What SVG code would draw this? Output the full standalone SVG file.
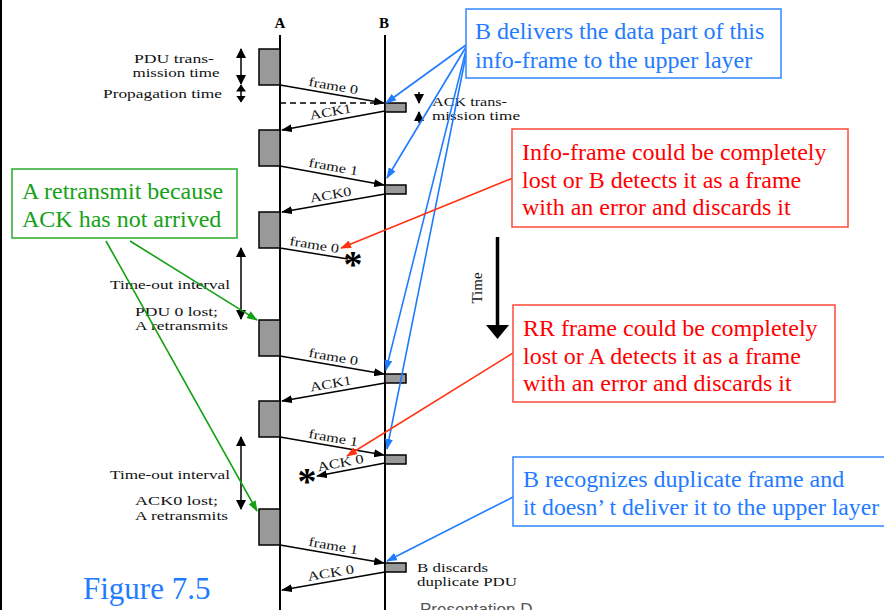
<svg xmlns="http://www.w3.org/2000/svg" width="884" height="610" viewBox="0 0 884 610">
<style>
.tl{stroke:#000;stroke-width:2;fill:none}
.pdu{fill:#999;stroke:#000;stroke-width:1.5}
.msg{stroke:#000;stroke-width:1.5;fill:none;marker-end:url(#ab)}
.lbl{font-family:"Liberation Serif","Times New Roman",serif;font-size:13px;fill:#111}
.sm{font-family:"Liberation Serif","Times New Roman",serif;font-size:12.5px;fill:#111}
.hd{font-family:"Liberation Serif","Times New Roman",serif;font-size:15px;font-weight:bold;fill:#000}
.dbl{stroke:#000;stroke-width:1.5;fill:none;marker-start:url(#ab2);marker-end:url(#ab2)}
.dbs{stroke:#000;stroke-width:1.5;fill:none;marker-start:url(#ab3);marker-end:url(#ab3)}
.big{font-family:"Liberation Serif","Times New Roman",serif;font-size:24px}
.blue{fill:#1f7bff}
.red{fill:#ff0000}
.green{fill:#16a116}
.bbox{fill:#fff;stroke:#2f86ff;stroke-width:1.5}
.rbox{fill:#fff;stroke:#ff4a3a;stroke-width:1.5}
.gbox{fill:#fff;stroke:#2aaa2a;stroke-width:1.5}
.bl{stroke:#1f7bff;stroke-width:1.6;fill:none;marker-end:url(#mb)}
.rl{stroke:#ff3311;stroke-width:1.6;fill:none;marker-end:url(#mr)}
.gl{stroke:#13a013;stroke-width:1.6;fill:none;marker-end:url(#mg)}
.ast{font-family:"Liberation Serif",serif;font-weight:bold;font-size:38px;fill:#000}
</style>
<defs>
<marker id="ab" markerWidth="11" markerHeight="8" refX="10" refY="4" orient="auto" markerUnits="userSpaceOnUse"><path d="M0,0 L11,4 L0,8 z" fill="#000"/></marker>
<marker id="ab2" markerWidth="10" markerHeight="10" refX="9" refY="5" orient="auto-start-reverse" markerUnits="userSpaceOnUse"><path d="M0,0 L10,5 L0,10 z" fill="#000"/></marker>
<marker id="ab3" markerWidth="7" markerHeight="10" refX="6.5" refY="5" orient="auto-start-reverse" markerUnits="userSpaceOnUse"><path d="M0,0 L7,5 L0,10 z" fill="#000"/></marker>
<marker id="mb" markerWidth="11" markerHeight="8" refX="10" refY="4" orient="auto" markerUnits="userSpaceOnUse"><path d="M0,0 L11,4 L0,8 z" fill="#1f7bff"/></marker>
<marker id="mr" markerWidth="11" markerHeight="8" refX="10" refY="4" orient="auto" markerUnits="userSpaceOnUse"><path d="M0,0 L11,4 L0,8 z" fill="#ff3311"/></marker>
<marker id="mg" markerWidth="11" markerHeight="8" refX="10" refY="4" orient="auto" markerUnits="userSpaceOnUse"><path d="M0,0 L11,4 L0,8 z" fill="#13a013"/></marker>
</defs>
<rect x="0" y="0" width="884" height="610" fill="#fff"/>
<line x1="1" y1="0" x2="1" y2="610" stroke="#000" stroke-width="2"/>

<g id="timelines">
<text class="hd" x="280" y="28" text-anchor="middle">A</text>
<text class="hd" x="384" y="28" text-anchor="middle">B</text>
<line class="tl" x1="280" y1="35" x2="280" y2="610"/>
<line class="tl" x1="385" y1="35" x2="385" y2="610"/>
</g>

<g id="pdus-A">
<rect class="pdu" x="259" y="49" width="21" height="36"/>
<rect class="pdu" x="259" y="130" width="21" height="36"/>
<rect class="pdu" x="259" y="212" width="21" height="36"/>
<rect class="pdu" x="259" y="320" width="21" height="36"/>
<rect class="pdu" x="259" y="401" width="21" height="36"/>
<rect class="pdu" x="259" y="509" width="21" height="36"/>
</g>
<g id="pdus-B">
<rect class="pdu" x="385" y="103" width="21" height="9"/>
<rect class="pdu" x="385" y="185" width="21" height="9"/>
<rect class="pdu" x="385" y="374" width="21" height="9"/>
<rect class="pdu" x="385" y="455" width="21" height="9"/>
<rect class="pdu" x="385" y="563" width="21" height="9"/>
</g>

<g id="messages">
<line x1="280" y1="103" x2="383" y2="103" stroke="#000" stroke-width="1.3" stroke-dasharray="6,4"/>
<line class="msg" x1="280" y1="85" x2="384" y2="103"/>
<line class="msg" x1="385" y1="111" x2="282" y2="130"/>
<line class="msg" x1="280" y1="166" x2="384" y2="185"/>
<line class="msg" x1="385" y1="194" x2="282" y2="212"/>
<line x1="280" y1="248" x2="348" y2="259" stroke="#000" stroke-width="1.5"/>
<line class="msg" x1="280" y1="356" x2="384" y2="374"/>
<line class="msg" x1="385" y1="383" x2="282" y2="401"/>
<line class="msg" x1="280" y1="437" x2="384" y2="455"/>
<line class="msg" x1="385" y1="463" x2="317" y2="476"/>
<line class="msg" x1="280" y1="545" x2="384" y2="563"/>
<line class="msg" x1="385" y1="572" x2="282" y2="590"/>
</g>

<g id="message-labels">
<text class="lbl" transform="translate(332,94) rotate(9.7)" x="0" y="-4" text-anchor="middle" textLength="50" lengthAdjust="spacingAndGlyphs">frame 0</text>
<text class="lbl" transform="translate(332,120) rotate(-10.3)" x="0" y="-4" text-anchor="middle" textLength="42" lengthAdjust="spacingAndGlyphs">ACK1</text>
<text class="lbl" transform="translate(332,175) rotate(10.2)" x="0" y="-4" text-anchor="middle" textLength="50" lengthAdjust="spacingAndGlyphs">frame 1</text>
<text class="lbl" transform="translate(332,203) rotate(-9.7)" x="0" y="-4" text-anchor="middle" textLength="42" lengthAdjust="spacingAndGlyphs">ACK0</text>
<text class="lbl" transform="translate(313,253) rotate(9.2)" x="0" y="-4" text-anchor="middle" textLength="50" lengthAdjust="spacingAndGlyphs">frame 0</text>
<text class="lbl" transform="translate(332,365) rotate(9.7)" x="0" y="-4" text-anchor="middle" textLength="50" lengthAdjust="spacingAndGlyphs">frame 0</text>
<text class="lbl" transform="translate(332,392) rotate(-9.7)" x="0" y="-4" text-anchor="middle" textLength="42" lengthAdjust="spacingAndGlyphs">ACK1</text>
<text class="lbl" transform="translate(332,446) rotate(9.7)" x="0" y="-4" text-anchor="middle" textLength="50" lengthAdjust="spacingAndGlyphs">frame 1</text>
<text class="lbl" transform="translate(342,471) rotate(-11)" x="0" y="-4" text-anchor="middle" textLength="47" lengthAdjust="spacingAndGlyphs">ACK 0</text>
<text class="lbl" transform="translate(332,554) rotate(9.7)" x="0" y="-4" text-anchor="middle" textLength="50" lengthAdjust="spacingAndGlyphs">frame 1</text>
<text class="lbl" transform="translate(332,581) rotate(-9.7)" x="0" y="-4" text-anchor="middle" textLength="47" lengthAdjust="spacingAndGlyphs">ACK 0</text>
<text class="ast" x="343.5" y="277">*</text>
<text class="ast" x="297.5" y="494">*</text>
</g>

<g id="timing-annotations">
<line class="dbl" x1="241" y1="49" x2="241" y2="84"/>
<line class="dbs" x1="241" y1="85" x2="241" y2="102"/>
<text class="sm" x="174" y="63" text-anchor="middle" textLength="80" lengthAdjust="spacingAndGlyphs">PDU trans-</text>
<text class="sm" x="176" y="77" text-anchor="middle" textLength="87" lengthAdjust="spacingAndGlyphs">mission time</text>
<text class="sm" x="103" y="98" textLength="119" lengthAdjust="spacingAndGlyphs">Propagation time</text>
<line x1="419" y1="92" x2="419" y2="103" stroke="#000" stroke-width="1.5" marker-end="url(#ab2)"/>
<line x1="419" y1="123" x2="419" y2="112" stroke="#000" stroke-width="1.5" marker-end="url(#ab2)"/>
<text class="sm" x="432" y="106" textLength="75" lengthAdjust="spacingAndGlyphs">ACK trans-</text>
<text class="sm" x="432" y="120" textLength="88" lengthAdjust="spacingAndGlyphs">mission time</text>
<line class="dbl" x1="241" y1="248" x2="241" y2="319"/>
<text class="sm" x="110" y="289" textLength="120" lengthAdjust="spacingAndGlyphs">Time-out interval</text>
<text class="sm" x="135" y="316" textLength="83" lengthAdjust="spacingAndGlyphs">PDU 0 lost;</text>
<text class="sm" x="135" y="330" textLength="93" lengthAdjust="spacingAndGlyphs">A retransmits</text>
<line class="dbl" x1="241" y1="437" x2="241" y2="509"/>
<text class="sm" x="110" y="479" textLength="120" lengthAdjust="spacingAndGlyphs">Time-out interval</text>
<text class="sm" x="135" y="505" textLength="83" lengthAdjust="spacingAndGlyphs">ACK0 lost;</text>
<text class="sm" x="135" y="520" textLength="93" lengthAdjust="spacingAndGlyphs">A retransmits</text>
<text class="sm" x="417" y="572" textLength="71" lengthAdjust="spacingAndGlyphs">B discards</text>
<text class="sm" x="417" y="586" textLength="100" lengthAdjust="spacingAndGlyphs">duplicate PDU</text>
</g>

<g id="time-arrow">
<line x1="497.5" y1="237" x2="497.5" y2="326" stroke="#000" stroke-width="3.5"/>
<path d="M486,325 L509,325 L497.5,339 z" fill="#000"/>
<text font-family="Liberation Serif,serif" font-size="15" fill="#111" transform="translate(482,288) rotate(-90)" text-anchor="middle">Time</text>
</g>

<g id="connectors">
<line class="bl" x1="466" y1="45" x2="386" y2="103"/>
<line class="bl" x1="466" y1="47" x2="387" y2="178"/>
<line class="bl" x1="466" y1="50" x2="386" y2="370"/>
<line class="bl" x1="466" y1="55" x2="387" y2="449"/>
<line class="rl" x1="513" y1="178" x2="341" y2="248"/>
<line class="rl" x1="513" y1="353" x2="347" y2="456"/>
<line class="bl" x1="513" y1="497" x2="387" y2="561"/>
<line class="gl" x1="130" y1="241" x2="257" y2="320"/>
<line class="gl" x1="106" y1="241" x2="257" y2="511"/>
</g>

<g id="note-deliver">
<rect class="bbox" x="466" y="9" width="315" height="69"/>
<text class="big blue" x="475" y="39">B delivers the data part of this</text>
<text class="big blue" x="475" y="68">info-frame to the upper layer</text>
</g>
<g id="note-info-lost">
<rect class="rbox" x="512" y="129" width="336" height="98"/>
<text class="big red" x="522" y="160">Info-frame could be completely</text>
<text class="big red" x="522" y="188">lost or B detects it as a frame</text>
<text class="big red" x="522" y="215">with an error and discards it</text>
</g>
<g id="note-rr-lost">
<rect class="rbox" x="513" y="305" width="322" height="97"/>
<text class="big red" x="523" y="336">RR frame could be completely</text>
<text class="big red" x="523" y="364">lost or A detects it as a frame</text>
<text class="big red" x="523" y="391">with an error and discards it</text>
</g>
<g id="note-duplicate">
<rect class="bbox" x="513" y="457" width="372" height="69"/>
<text class="big blue" x="523" y="487">B recognizes duplicate frame and</text>
<text class="blue" font-family="Liberation Serif,Times New Roman,Noto Sans CJK SC,serif" font-size="23.7" x="523" y="515">it doesn’ t deliver it to the upper layer</text>
</g>
<g id="note-retransmit">
<rect class="gbox" x="12" y="169" width="225" height="69"/>
<text class="big green" x="22" y="199">A retransmit because</text>
<text class="big green" x="22" y="227">ACK has not arrived</text>
</g>

<text class="blue" font-family="Liberation Serif,serif" font-size="31" x="83" y="599">Figure 7.5</text>
<text font-family="Liberation Sans,Arial,sans-serif" font-size="17" fill="#555" x="420" y="615">Presentation D</text>
</svg>
